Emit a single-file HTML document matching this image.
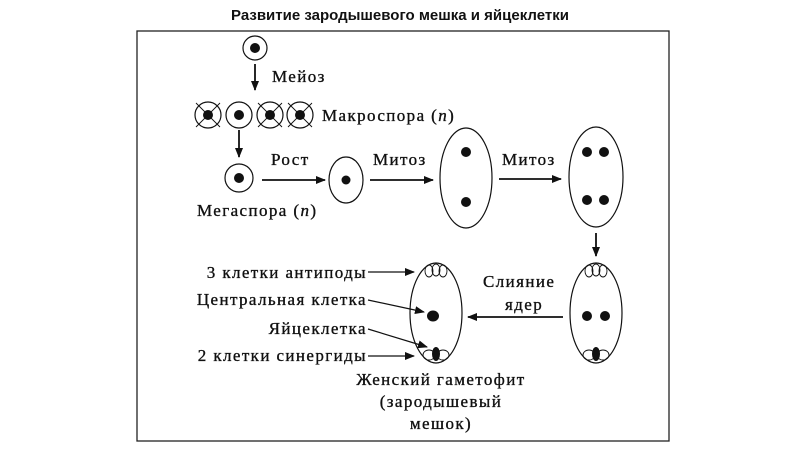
<!DOCTYPE html>
<html><head><meta charset="utf-8"><style>
html,body{margin:0;padding:0;background:#fff;}
svg{display:block;}
text{font-family:"Liberation Serif","DejaVu Serif",serif;font-size:17px;letter-spacing:1.4px;fill:#111;stroke:#111;stroke-width:0.35;}
.t{font-family:"Liberation Sans",sans-serif;font-weight:bold;font-size:15px;letter-spacing:0;stroke:none;}
</style></head><body>
<svg width="800" height="450" viewBox="0 0 800 450" xmlns="http://www.w3.org/2000/svg">
<defs>
<marker id="a" markerWidth="10" markerHeight="8" refX="9" refY="4" orient="auto" markerUnits="userSpaceOnUse">
<path d="M0,0 L10,4 L0,8 Z" fill="#111"/></marker>
</defs>
<text class="t" x="400" y="20" text-anchor="middle">Развитие зародышевого мешка и яйцеклетки</text>
<rect x="137" y="31" width="532" height="410" fill="none" stroke="#222" stroke-width="1.3"/>
<g stroke="#111" stroke-width="1.2" fill="none">
<circle cx="255" cy="48" r="12"/>
<line x1="255" y1="64" x2="255" y2="90" stroke-width="1.8" marker-end="url(#a)"/>
<circle cx="208" cy="115" r="13"/><circle cx="239" cy="115" r="13"/>
<circle cx="270" cy="115" r="13"/><circle cx="300" cy="115" r="13"/>
<path d="M196,103 L220,127 M220,103 L196,127 M258,103 L282,127 M282,103 L258,127 M288,103 L312,127 M312,103 L288,127" stroke-width="0.9"/>
<line x1="239" y1="130" x2="239" y2="157" stroke-width="1.8" marker-end="url(#a)"/>
<circle cx="239" cy="178" r="14"/>
<line x1="262" y1="180" x2="325" y2="180" stroke-width="1.8" marker-end="url(#a)"/>
<ellipse cx="346" cy="180" rx="17" ry="23"/>
<line x1="370" y1="180" x2="433" y2="180" stroke-width="1.8" marker-end="url(#a)"/>
<ellipse cx="466" cy="178" rx="26" ry="50"/>
<line x1="499" y1="179" x2="561" y2="179" stroke-width="1.8" marker-end="url(#a)"/>
<ellipse cx="596" cy="177" rx="27" ry="50"/>
<line x1="596" y1="233" x2="596" y2="256" stroke-width="1.8" marker-end="url(#a)"/>
<ellipse cx="596" cy="313" rx="26" ry="50"/>
<ellipse cx="436" cy="313" rx="26" ry="50"/>
<line x1="563" y1="317" x2="468" y2="317" stroke-width="1.8" marker-end="url(#a)"/>
<g stroke-width="0.9">
<ellipse cx="589" cy="271" rx="4" ry="6"/><ellipse cx="596" cy="270" rx="4" ry="6"/><ellipse cx="603" cy="271" rx="4" ry="6"/>
<ellipse cx="589" cy="355" rx="6" ry="5"/><ellipse cx="603" cy="355" rx="6" ry="5"/>
<ellipse cx="429" cy="271" rx="4" ry="6"/><ellipse cx="436" cy="270" rx="4" ry="6"/><ellipse cx="443" cy="271" rx="4" ry="6"/>
<ellipse cx="429" cy="355" rx="6" ry="5"/><ellipse cx="443" cy="355" rx="6" ry="5"/>
</g>
<line x1="368" y1="272" x2="414" y2="272" marker-end="url(#a)"/>
<line x1="368" y1="300" x2="424" y2="312" marker-end="url(#a)"/>
<line x1="368" y1="329" x2="427" y2="347" marker-end="url(#a)"/>
<line x1="368" y1="356" x2="414" y2="356" marker-end="url(#a)"/>
</g>
<g fill="#111">
<circle cx="255" cy="48" r="5"/>
<circle cx="208" cy="115" r="5"/><circle cx="239" cy="115" r="5"/><circle cx="270" cy="115" r="5"/><circle cx="300" cy="115" r="5"/>
<circle cx="239" cy="178" r="5"/><circle cx="346" cy="180" r="4.5"/>
<circle cx="466" cy="152" r="5"/><circle cx="466" cy="202" r="5"/>
<circle cx="587" cy="152" r="5"/><circle cx="604" cy="152" r="5"/><circle cx="587" cy="200" r="5"/><circle cx="604" cy="200" r="5"/>
<circle cx="587" cy="316" r="5"/><circle cx="605" cy="316" r="5"/>
<ellipse cx="596" cy="354" rx="4" ry="7"/>
<ellipse cx="433" cy="316" rx="6" ry="5.5"/>
<ellipse cx="436" cy="354" rx="4" ry="7"/>
</g>
<text x="272" y="82">Мейоз</text>
<text x="322" y="121">Макроспора (<tspan font-style="italic">n</tspan>)</text>
<text x="197" y="216">Мегаспора (<tspan font-style="italic">n</tspan>)</text>
<text x="271" y="165">Рост</text>
<text x="373" y="165">Митоз</text>
<text x="502" y="165">Митоз</text>
<text x="483" y="287">Слияние</text>
<text x="505" y="310">ядер</text>
<text x="367" y="278" text-anchor="end">3 клетки антиподы</text>
<text x="367" y="305" text-anchor="end">Центральная клетка</text>
<text x="367" y="334" text-anchor="end">Яйцеклетка</text>
<text x="367" y="361" text-anchor="end">2 клетки синергиды</text>
<text x="441" y="385" text-anchor="middle">Женский гаметофит</text>
<text x="441" y="407" text-anchor="middle">(зародышевый</text>
<text x="441" y="429" text-anchor="middle">мешок)</text>
</svg>
</body></html>
